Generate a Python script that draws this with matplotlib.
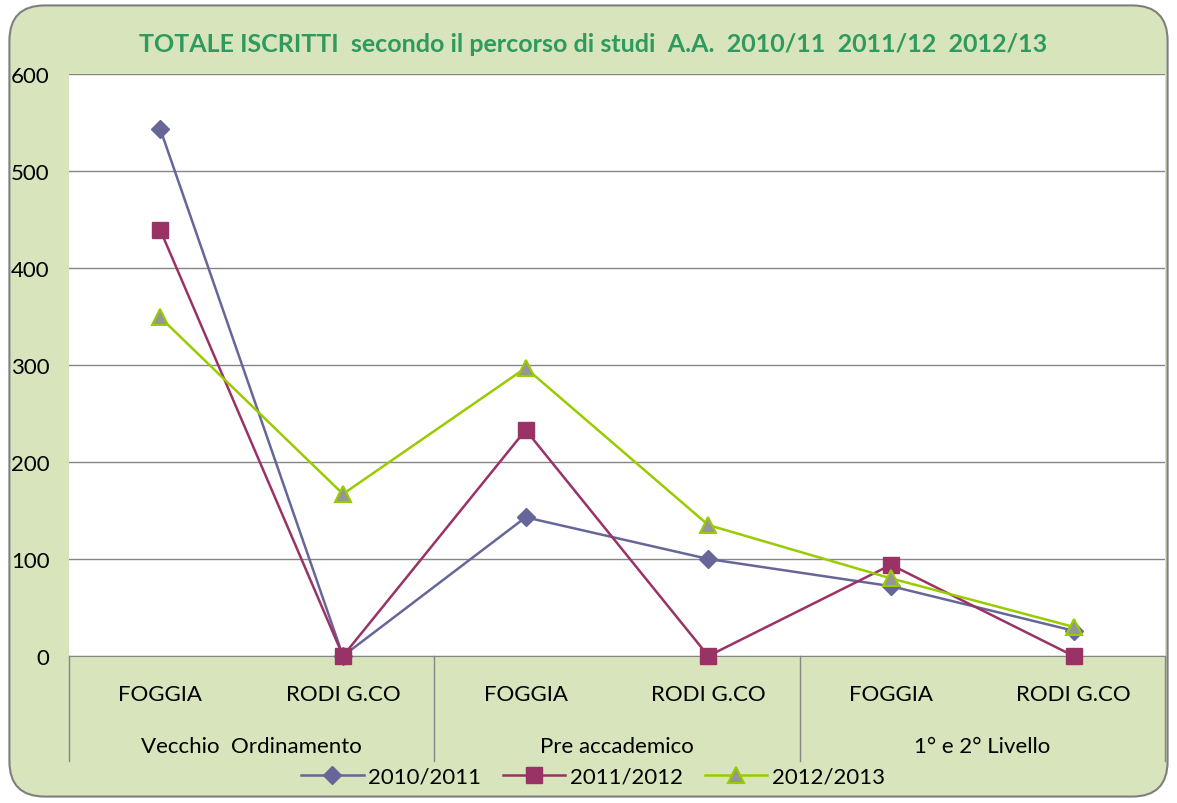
import matplotlib.pyplot as plt
from matplotlib.patches import FancyBboxPatch

# dati
sedi = ['FOGGIA', 'RODI G.CO', 'FOGGIA', 'RODI G.CO', 'FOGGIA', 'RODI G.CO']
percorsi = ['Vecchio  Ordinamento', 'Pre accademico', '1° e 2° Livello']
anni = ['2010/2011', '2011/2012', '2012/2013']
iscritti_2010 = [543, 0, 143, 100, 72, 26]
iscritti_2011 = [439, 0, 233, 0, 94, 0]
iscritti_2012 = [349, 167, 297, 135, 80, 30]

plt.rcParams['font.family'] = ['Lato', 'DejaVu Sans']

fig = plt.figure(figsize=(11.77, 8.04), dpi=100)
fig.patch.set_facecolor('white')

# sfondo verde con bordo arrotondato
bg = FancyBboxPatch((0.008, 0.008), 0.984, 0.984, boxstyle='round,pad=0,rounding_size=0.03',
                    transform=fig.transFigure, facecolor='#D8E4BC', edgecolor='#7F7F7F',
                    linewidth=1.5, mutation_aspect=1177 / 804, zorder=-10)
fig.patches.append(bg)

ax = fig.add_axes([69 / 1177, 1 - 657 / 804, (1165 - 69) / 1177, (657 - 75) / 804])
ax.set_facecolor('white')

x = [i + 0.5 for i in range(len(sedi))]
ax.plot(x, iscritti_2010, color='#666699', lw=1.8, marker='D', ms=9.5,
        mfc='#666699', mec='#666699', label=anni[0], clip_on=False, zorder=3)
ax.plot(x, iscritti_2011, color='#993366', lw=1.8, marker='s', ms=11,
        mfc='#993366', mec='#993366', label=anni[1], clip_on=False, zorder=4)
ax.plot(x, iscritti_2012, color='#99CC00', lw=1.8, marker='^', ms=12,
        mfc='#969696', mec='#99CC00', mew=1.5, label=anni[2], clip_on=False, zorder=5)

ax.set_xlim(0, len(sedi))
ax.set_ylim(0, 600)
ax.set_yticks(range(0, 601, 100))
ax.yaxis.grid(True, color='#868686', lw=1)
ax.set_axisbelow(True)
ax.tick_params(axis='y', length=0, labelsize=16, pad=14)
ax.set_xticks([])
for s in ['left', 'right', 'top']:
    ax.spines[s].set_visible(False)
ax.spines['bottom'].set_color('#868686')

# etichette categorie su due livelli
tr = ax.get_xaxis_transform()
for xi, nome in zip(x, sedi):
    ax.text(xi, -0.065, nome, transform=tr, ha='center', va='center', fontsize=16)
for i, nome in enumerate(percorsi):
    ax.text(2 * i + 1, -0.155, nome, transform=tr, ha='center', va='center', fontsize=16)
for xs in [0, 2, 4, 6]:
    ax.plot([xs, xs], [0, -0.18], transform=tr, color='#868686', lw=1, clip_on=False)

fig.text(593 / 1177, 1 - 45 / 804,
         'TOTALE ISCRITTI  secondo il percorso di studi  A.A.  2010/11  2011/12  2012/13',
         ha='center', va='center', fontsize=18, fontweight='bold', color='#2E9A5E')

fig.legend(loc='center', bbox_to_anchor=(593 / 1177, 1 - 778 / 804), ncol=3,
           frameon=False, fontsize=16, handlelength=2.8, columnspacing=1.0, handletextpad=0.2)

fig.savefig('out.png', dpi=100)
